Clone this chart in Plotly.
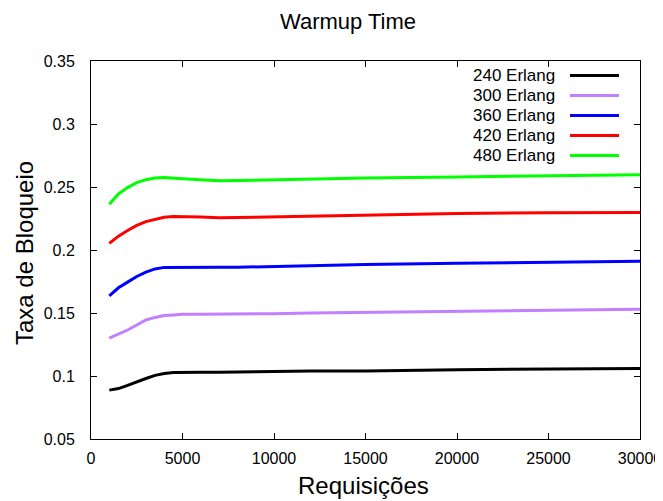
import plotly.graph_objects as go

requisicoes = [1000, 1500, 2000, 2500, 3000, 3500, 4000, 4500, 5000, 6000, 7000, 8000,
               10000, 12000, 15000, 20000, 25000, 30000]
erl_240 = [0.0888, 0.0900, 0.0925, 0.0955, 0.0980, 0.1005, 0.1020, 0.1028, 0.1030, 0.1030, 0.1030, 0.1030,
           0.1035, 0.1040, 0.1040, 0.1050, 0.1055, 0.1060]
erl_300 = [0.1300, 0.1330, 0.1365, 0.1405, 0.1445, 0.1465, 0.1480, 0.1485, 0.1490, 0.1490, 0.1490, 0.1490,
           0.1495, 0.1500, 0.1505, 0.1510, 0.1520, 0.1530]
erl_360 = [0.1635, 0.1700, 0.1745, 0.1790, 0.1825, 0.1850, 0.1862, 0.1863, 0.1863, 0.1863, 0.1863, 0.1863,
           0.1870, 0.1875, 0.1885, 0.1895, 0.1900, 0.1910]
erl_420 = [0.2053, 0.2110, 0.2155, 0.2195, 0.2225, 0.2245, 0.2260, 0.2265, 0.2265, 0.2262, 0.2255, 0.2258,
           0.2265, 0.2270, 0.2280, 0.2290, 0.2295, 0.2298]
erl_480 = [0.2363, 0.2445, 0.2495, 0.2535, 0.2558, 0.2572, 0.2575, 0.2568, 0.2565, 0.2558, 0.2550, 0.2551,
           0.2558, 0.2563, 0.2572, 0.2580, 0.2590, 0.2598]

series_names = ["240 Erlang", "300 Erlang", "360 Erlang", "420 Erlang", "480 Erlang"]
series_values = [erl_240, erl_300, erl_360, erl_420, erl_480]
colors = ["#000000", "#c080ff", "#0000ff", "#ff0000", "#00ff00"]

x_ticks = [0, 5000, 10000, 15000, 20000, 25000, 30000]
x_ticklabels = ["0", "5000", "10000", "15000", "20000", "25000", "30000"]
y_ticks = [0.05, 0.1, 0.15, 0.2, 0.25, 0.3, 0.35]
y_ticklabels = ["0.05", "0.1", "0.15", "0.2", "0.25", "0.3", "0.35"]

FONT = "Liberation Sans, Arial, sans-serif"

fig = go.Figure()
for name, vals, c in zip(series_names, series_values, colors):
    fig.add_trace(go.Scatter(x=requisicoes, y=vals, mode="lines", name=name,
                             line=dict(color=c, width=3), showlegend=False))

# the page body adds an 8px margin, so the figure is shifted by OFF in the screenshot
OFF = 8
W, H = 663 - OFF, 501 - OFF
# plot area in screenshot pixels: x 91..640, y 61..439
ml, mt = 91 - OFF, 61 - OFF
mr, mb = W - (640 - OFF), H - (439 - OFF)
pw, ph = W - ml - mr, H - mt - mb
def px(x):
    return (x - OFF - ml) / pw
def py(y):
    return 1 - (y - OFF - mt) / ph

annotations = []
shapes = []
# gnuplot-style legend: right-aligned text followed by line sample
for i, (name, c) in enumerate(zip(series_names, colors)):
    yy = 75.5 + 20 * i
    annotations.append(dict(x=px(557), y=py(yy), xref="paper", yref="paper", text=name,
                            showarrow=False, xanchor="right", yanchor="middle",
                            font=dict(family=FONT, size=17, color="#000000")))
    shapes.append(dict(type="line", xref="paper", yref="paper", x0=px(570), x1=px(619),
                       y0=py(yy), y1=py(yy), line=dict(color=c, width=3)))

# axis titles
annotations.append(dict(x=px(363), y=py(485), xref="paper", yref="paper", text="Requisições",
                        showarrow=False, xanchor="center", yanchor="middle",
                        font=dict(family=FONT, size=24, color="#000000")))
annotations.append(dict(x=px(24), y=py(253), xref="paper", yref="paper", text="Taxa de Bloqueio",
                        showarrow=False, xanchor="center", yanchor="middle", textangle=-90,
                        font=dict(family=FONT, size=24, color="#000000")))

fig.update_layout(
    width=W, height=H,
    margin=dict(l=ml, r=mr, t=mt, b=mb, autoexpand=False),
    paper_bgcolor="white", plot_bgcolor="white",
    title=dict(text="Warmup Time", x=(348 - OFF) / W, xanchor="center", y=1 - (21 - OFF) / H,
               yanchor="middle", font=dict(family=FONT, size=22, color="#000000")),
    font=dict(family=FONT, size=16, color="#000000"),
    annotations=annotations, shapes=shapes,
    xaxis=dict(range=[0, 30000], tickvals=x_ticks, ticktext=x_ticklabels, automargin=False,
               showgrid=False, zeroline=False, showline=True, linecolor="#000000", linewidth=1,
               mirror="ticks", ticks="inside", ticklen=6, tickcolor="#000000",
               ticklabelstandoff=5, tickfont=dict(family=FONT, size=16)),
    yaxis=dict(range=[0.05, 0.35], tickvals=y_ticks, ticktext=y_ticklabels, automargin=False,
               showgrid=False, zeroline=False, showline=True, linecolor="#000000", linewidth=1,
               mirror="ticks", ticks="inside", ticklen=6, tickcolor="#000000",
               ticklabelstandoff=12, tickfont=dict(family=FONT, size=16)),
)

fig.write_html("out.html")
